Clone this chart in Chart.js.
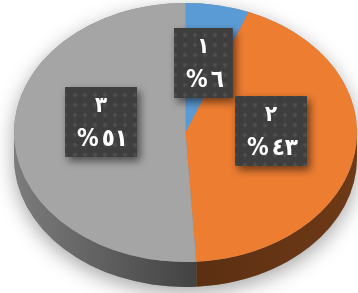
<!DOCTYPE html>
<html>
<head>
<meta charset="utf-8">
<script src="https://cdn.jsdelivr.net/npm/chart.js@4.4.1/dist/chart.umd.min.js"></script>
<style>
  html, body { margin: 0; padding: 0; background: #fff; overflow: hidden; }
  #wrap { width: 358px; height: 293px; overflow: hidden; }
</style>
</head>
<body>
<div id="wrap"><canvas id="myChart" width="358" height="343"></canvas></div>
<script>
/* 데이터 */
var categories = ['١', '٢', '٣'];
var shares = [6, 43, 51];
var shareLabels = ['%٦', '%٤٣', '%٥١'];

/* 스타일 */
var topColors = ['#5B9BD5', '#ED7D31', '#A5A5A5'];
var sideColors = [['#3d6e9c', '#2c5275'], ['#5c2f12', '#6e3a17'], ['#7c7c7c', '#424242']];
var tilt = 0.755;      // 세로 눌림 비율
var topMargin = 3;     // 타원 윗부분
var depth = 25;        // 옆면 두께
var labelSpots = [{turn: 0, reach: 0.55}, {turn: -10, reach: 0.5}, {turn: 11, reach: 0.5}];
var bigFont = 'bold 24px "DejaVu Sans Condensed"';
var smallFont = 'bold 22px "DejaVu Sans Condensed"';

/* 박스 점무늬 */
function dotPattern(ctx) {
  var c = document.createElement('canvas');
  c.width = 10; c.height = 10;
  var p = c.getContext('2d');
  p.fillStyle = '#3e3e3e';
  p.fillRect(0, 0, 10, 10);
  var g = p.createRadialGradient(5, 5, 0, 5, 5, 3);
  g.addColorStop(0, 'rgba(255,255,255,0.12)');
  g.addColorStop(1, 'rgba(255,255,255,0)');
  p.fillStyle = g;
  p.fillRect(0, 0, 10, 10);
  return ctx.createPattern(c, 'repeat');
}

/* 3D 파이 플러그인 */
var pie3d = {
  id: 'pie3d',
  beforeDatasetsDraw: function(chart) {
    var ctx = chart.ctx;
    var arcs = chart.getDatasetMeta(0).data;
    var cx = arcs[0].x, cy = arcs[0].y, r = arcs[0].outerRadius;
    var ry = r * tilt;
    var sy = topMargin + ry;
    ctx.save();

    /* 그림자 */
    ctx.save();
    ctx.shadowColor = 'rgba(0,0,0,0.35)';
    ctx.shadowBlur = 20;
    ctx.shadowOffsetX = 0;
    ctx.shadowOffsetY = 6;
    ctx.fillStyle = '#888';
    ctx.beginPath();
    ctx.ellipse(cx, sy, r, ry, 0, Math.PI, 2 * Math.PI);
    ctx.lineTo(cx + r, sy + depth);
    ctx.ellipse(cx, sy + depth, r, ry, 0, 0, Math.PI);
    ctx.closePath();
    ctx.fill();
    ctx.restore();

    /* 옆면 */
    arcs.forEach(function(arc, i) {
      var ranges = [[0, Math.PI], [2 * Math.PI, 3 * Math.PI]];
      ranges.forEach(function(rg) {
        var a0 = Math.max(arc.startAngle, rg[0]);
        var a1 = Math.min(arc.endAngle, rg[1]);
        if (a1 <= a0) return;
        var x0 = cx + r * Math.cos(a0), x1 = cx + r * Math.cos(a1);
        var grad = ctx.createLinearGradient(Math.min(x0, x1), 0, Math.max(x0, x1), 0);
        grad.addColorStop(0, sideColors[i][0]);
        grad.addColorStop(1, sideColors[i][1]);
        ctx.fillStyle = grad;
        ctx.beginPath();
        ctx.ellipse(cx, sy, r, ry, 0, a0, a1);
        ctx.lineTo(cx + r * Math.cos(a1), sy + ry * Math.sin(a1) + depth);
        ctx.ellipse(cx, sy + depth, r, ry, 0, a1, a0, true);
        ctx.closePath();
        ctx.fill();
      });
    });

    /* 윗면 눌림 */
    ctx.translate(0, sy);
    ctx.scale(1, tilt);
    ctx.translate(0, -cy);
  },
  afterDatasetsDraw: function(chart) {
    chart.ctx.restore();
  },
  afterDraw: function(chart) {
    var ctx = chart.ctx;
    var arcs = chart.getDatasetMeta(0).data;
    var cx = arcs[0].x, r = arcs[0].outerRadius;
    var sy = topMargin + r * tilt;
    var pat = dotPattern(ctx);
    arcs.forEach(function(arc, i) {
      var mid = (arc.startAngle + arc.endAngle) / 2 + labelSpots[i].turn * Math.PI / 180;
      var px = cx + labelSpots[i].reach * r * Math.cos(mid);
      var py = sy + tilt * labelSpots[i].reach * r * Math.sin(mid);
      ctx.save();
      ctx.font = bigFont;
      ctx.letterSpacing = '3px';
      var w = ctx.measureText(shareLabels[i]).width + 21;
      var h = 70;
      var bx = Math.round(px - w / 2), by = Math.round(py - h / 2);
      ctx.shadowColor = 'rgba(0,0,0,0.55)';
      ctx.shadowBlur = 8;
      ctx.shadowOffsetX = 3;
      ctx.shadowOffsetY = 4;
      ctx.fillStyle = pat;
      ctx.fillRect(bx, by, w, h);
      ctx.restore();

      ctx.save();
      ctx.fillStyle = '#fff';
      ctx.textAlign = 'center';
      ctx.textBaseline = 'alphabetic';
      ctx.font = smallFont;
      ctx.fillText(categories[i], bx + w / 2, by + 25);
      ctx.font = bigFont;
      ctx.letterSpacing = '3px';
      ctx.fillText(shareLabels[i], bx + w / 2 + 1.5, by + 59);
      ctx.restore();
    });
  }
};

/* 차트 생성 */
function createChart() {
  var ctx = document.getElementById('myChart').getContext('2d');
  var myChart = new Chart(ctx, {
    type: 'pie',
    data: {
      labels: categories,
      datasets: [{
        data: shares,
        backgroundColor: topColors,
        borderWidth: 0,
        clip: false
      }]
    },
    options: {
      responsive: false,
      animation: false,
      layout: { padding: { left: 14, right: 1, top: 0, bottom: 0 } },
      plugins: {
        legend: { display: false },
        tooltip: { enabled: false }
      }
    },
    plugins: [pie3d]
  });
}

createChart();
</script>
</body>
</html>
